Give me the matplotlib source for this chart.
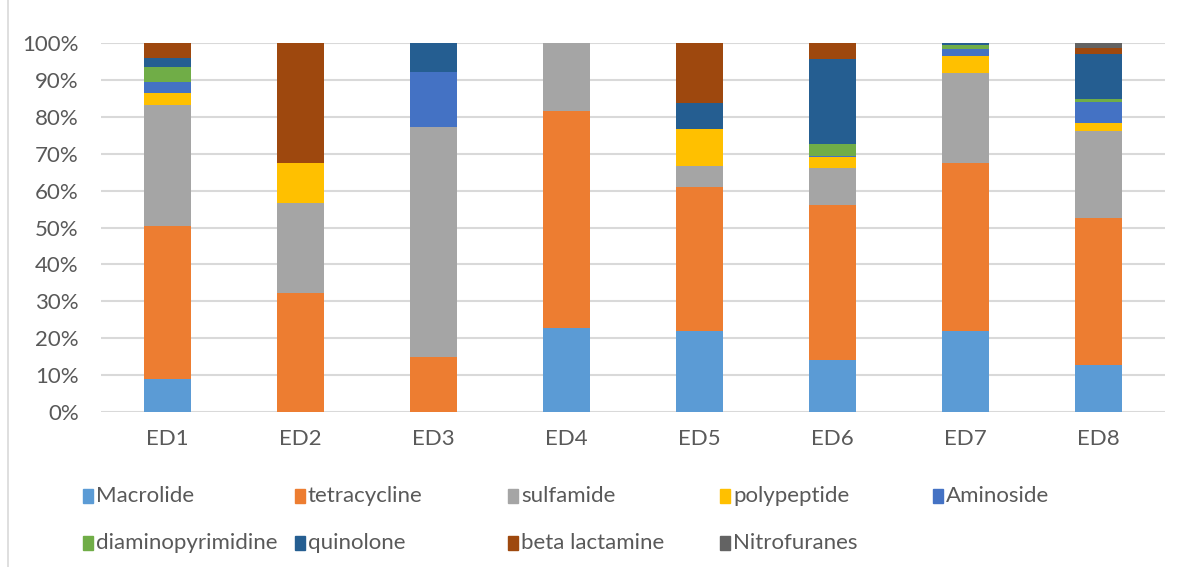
import matplotlib
matplotlib.use("Agg")
import matplotlib.pyplot as plt
from matplotlib.patches import Rectangle
from matplotlib.lines import Line2D
import numpy as np

categories = ["ED1", "ED2", "ED3", "ED4", "ED5", "ED6", "ED7", "ED8"]
series_names = ["Macrolide", "tetracycline", "sulfamide", "polypeptide", "Aminoside",
                "diaminopyrimidine", "quinolone", "beta lactamine", "Nitrofuranes"]
macrolide = [8.9, 0, 0, 22.8, 22.0, 14.1, 22.0, 12.7]
tetracycline = [41.5, 32.2, 14.9, 58.8, 39.1, 42.0, 45.5, 39.9]
sulfamide = [32.8, 24.4, 62.3, 18.4, 5.7, 9.9, 24.3, 23.6]
polypeptide = [3.2, 10.9, 0, 0, 9.8, 3.0, 4.8, 2.0]
aminoside = [3.0, 0, 14.9, 0, 0, 0.5, 1.9, 5.9]
diaminopyrimidine = [4.2, 0, 0, 0, 0, 3.1, 1.0, 0.7]
quinolone = [2.2, 0, 7.9, 0, 7.1, 23.1, 0.5, 12.3]
beta_lactamine = [4.2, 32.5, 0, 0, 16.3, 4.3, 0, 1.6]
nitrofuranes = [0, 0, 0, 0, 0, 0, 0, 1.3]
yticks = [0, 10, 20, 30, 40, 50, 60, 70, 80, 90, 100]
ytick_labels = ["0%", "10%", "20%", "30%", "40%", "50%", "60%", "70%", "80%", "90%", "100%"]

colors = ["#5B9BD5", "#ED7D31", "#A5A5A5", "#FFC000", "#4472C4",
          "#70AD47", "#255E91", "#9E480E", "#636363"]

plt.rcParams['font.family'] = ['Lato', 'DejaVu Sans']

W, H = 1182, 567
fig = plt.figure(figsize=(W / 100, H / 100), dpi=100)
ax = fig.add_axes([101 / W, 1 - 412 / H, (1165 - 101) / W, (412 - 43) / H])

data = [macrolide, tetracycline, sulfamide, polypeptide, aminoside,
        diaminopyrimidine, quinolone, beta_lactamine, nitrofuranes]
x = np.arange(len(categories))
bottom = np.zeros(len(categories))
for vals, col, name in zip(data, colors, series_names):
    v = np.array(vals, dtype=float)
    ax.bar(x, v, bottom=bottom, width=0.353, color=col, label=name, zorder=3)
    bottom += v

ax.set_xlim(-0.5, len(categories) - 0.5)
ax.set_ylim(0, 100)
ax.set_yticks(yticks)
ax.set_yticklabels(ytick_labels)
ax.set_xticks(x)
ax.set_xticklabels(categories)
ax.tick_params(axis='both', length=0, labelsize=16, colors="#595959")
ax.tick_params(axis='y', pad=16)
ax.tick_params(axis='x', pad=12)
ax.grid(axis='y', color="#D9D9D9", linewidth=1.5, zorder=0)
for s in ax.spines.values():
    s.set_visible(False)

# manual legend
row_y = [496, 543]
col_x = [83, 295, 508, 720, 933]
for i, (name, col) in enumerate(zip(series_names, colors)):
    r, c = divmod(i, 5)
    px, py = col_x[c], row_y[r]
    fig.patches.append(Rectangle((px / W, 1 - (py + 7) / H), 10 / W, 14 / H,
                                 transform=fig.transFigure, color=col))
    fig.text((px + 13) / W, 1 - py / H, name, fontsize=16, color="#595959",
             va='center', ha='left')

# chart frame left border
fig.add_artist(Line2D([8 / W, 8 / W], [0, 1], transform=fig.transFigure,
                      color="#D9D9D9", linewidth=1.2))

fig.savefig("out.png", dpi=100)
